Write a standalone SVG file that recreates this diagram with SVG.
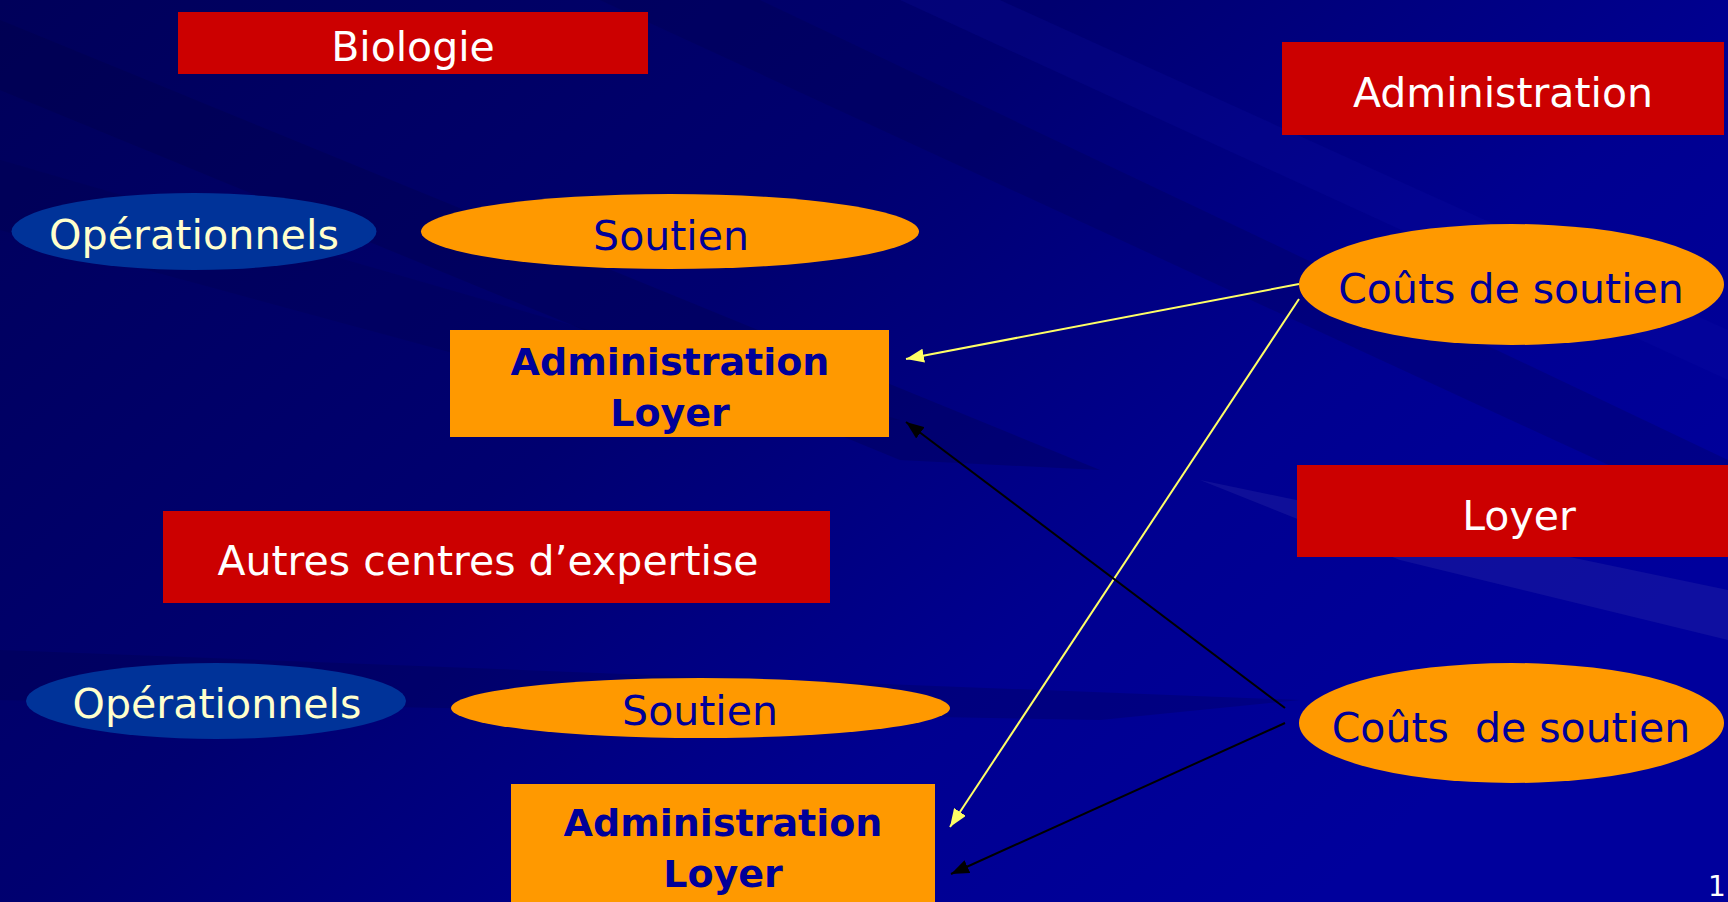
<svg xmlns="http://www.w3.org/2000/svg" width="1728" height="902" viewBox="0 0 1728 902">
<defs>
<linearGradient id="bg" x1="0" y1="0" x2="1" y2="0.6">
<stop offset="0" stop-color="#00005a"/>
<stop offset="0.45" stop-color="#000070"/>
<stop offset="0.75" stop-color="#000090"/>
<stop offset="1" stop-color="#00009c"/>
</linearGradient>
<marker id="ay" markerUnits="userSpaceOnUse" markerWidth="20" markerHeight="14" refX="18" refY="7" orient="auto"><path d="M0,0 L18,7 L0,14 z" fill="#ffff66"/></marker>
<marker id="ab" markerUnits="userSpaceOnUse" markerWidth="20" markerHeight="14" refX="18" refY="7" orient="auto"><path d="M0,0 L18,7 L0,14 z" fill="#000000"/></marker>
<style>
.red{fill:#cc0000}
.org{fill:#ff9900}
.blue{fill:#003399}
.t{font-family:"DejaVu Sans","Verdana",sans-serif;font-size:41px;text-anchor:middle}
.w{fill:#ffffff}
.c{fill:#ffffcc}
.n{fill:#000099}
.b{font-weight:bold;font-size:38px}
.ly{stroke:#ffff66;stroke-width:2;fill:none}
.lb{stroke:#000000;stroke-width:2;fill:none}
</style>
</defs>
<rect x="0" y="0" width="1728" height="902" fill="url(#bg)"/>
<g id="streaks" fill="#000040">
<polygon points="0,20 0,90 900,460 1100,470" opacity="0.25"/>
<polygon points="0,160 0,230 700,420 900,420" opacity="0.18"/>
<polygon points="600,0 760,0 1728,460 1728,520" opacity="0.2"/>
<polygon points="0,650 0,700 1100,720 1300,700" opacity="0.22"/>
<polygon points="1200,480 1728,590 1728,640 1400,560" fill="#3333aa" opacity="0.3"/>
<polygon points="900,0 1000,0 1728,330 1728,380" fill="#1111aa" opacity="0.18"/>
</g>
<g id="connectors">
<line class="ly" x1="1299" y1="284" x2="906" y2="359" marker-end="url(#ay)"/>
<line class="ly" x1="1299" y1="299" x2="950" y2="827" marker-end="url(#ay)"/>
<line class="lb" x1="1285" y1="708" x2="906" y2="422" marker-end="url(#ab)"/>
<line class="lb" x1="1285" y1="723" x2="951" y2="874" marker-end="url(#ab)"/>
</g>
<g id="biologie"><rect class="red" x="178" y="12" width="470" height="62"/><text class="t w" x="413" y="61">Biologie</text></g>
<g id="administration"><rect class="red" x="1282" y="42" width="442" height="93"/><text class="t w" x="1503" y="107">Administration</text></g>
<g id="operationnels1"><ellipse class="blue" cx="194" cy="231.5" rx="182.5" ry="38.5"/><text class="t c" x="194" y="249" textLength="290" lengthAdjust="spacingAndGlyphs">Opérationnels</text></g>
<g id="soutien1"><ellipse class="org" cx="670" cy="231.5" rx="249" ry="37.5"/><text class="t n" x="671" y="250">Soutien</text></g>
<g id="adminloyer1"><rect class="org" x="450" y="330" width="439" height="107"/><text class="t n b" x="670" y="375">Administration</text><text class="t n b" x="670" y="426">Loyer</text></g>
<g id="couts1"><ellipse class="org" cx="1511.5" cy="284.5" rx="212.5" ry="60.5"/><text class="t n" x="1511" y="303">Coûts de soutien</text></g>
<g id="loyer"><rect class="red" x="1297" y="465" width="431" height="92"/><text class="t w" x="1519" y="530">Loyer</text></g>
<g id="autres"><rect class="red" x="163" y="511" width="667" height="92"/><text class="t w" x="488" y="575">Autres centres d’expertise</text></g>
<g id="operationnels2"><ellipse class="blue" cx="216" cy="701" rx="190" ry="38"/><text class="t c" x="217" y="718" textLength="289" lengthAdjust="spacingAndGlyphs">Opérationnels</text></g>
<g id="soutien2"><ellipse class="org" cx="700.5" cy="708" rx="249.5" ry="30"/><text class="t n" x="700" y="725">Soutien</text></g>
<g id="adminloyer2"><rect class="org" x="511" y="784" width="424" height="130"/><text class="t n b" x="723" y="836">Administration</text><text class="t n b" x="723" y="887">Loyer</text></g>
<g id="couts2"><ellipse class="org" cx="1511.5" cy="723" rx="212.5" ry="60"/><text class="t n" x="1511" y="742" xml:space="preserve">Coûts  de soutien</text></g>
<text class="w" x="1708" y="896" font-family="DejaVu Sans, sans-serif" font-size="28">1</text>
</svg>
